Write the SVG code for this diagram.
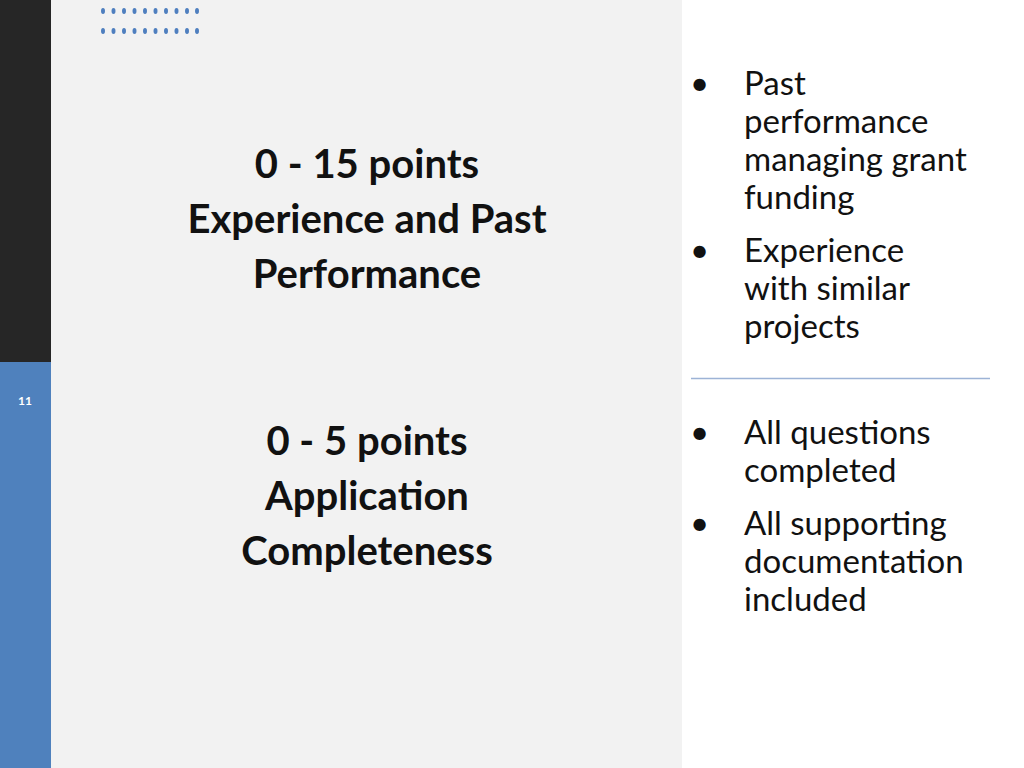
<svg xmlns="http://www.w3.org/2000/svg" width="1024" height="768" viewBox="0 0 1024 768">
<style>
.h{font-family:Lato,"Noto Sans",sans-serif;font-weight:bold;font-size:40px;fill:#111;text-anchor:middle}
.b{font-family:Lato,"Noto Sans",sans-serif;font-size:33px;fill:#111}
.d{fill:#4f7fbf}
</style>
<rect width="1024" height="768" fill="#fff"/>
<rect x="51" width="631" height="768" fill="#f2f2f2"/>
<rect width="51" height="362" fill="#262626"/>
<rect y="362" width="51" height="406" fill="#4f81bd"/>
<text x="25" y="405" font-family="Lato,sans-serif" font-size="12" font-weight="bold" fill="#fff" text-anchor="middle">11</text>
<g id="dots">
<g class="d">
<ellipse cx="103" cy="11" rx="2" ry="3"/><ellipse cx="113.5" cy="11" rx="2" ry="3"/><ellipse cx="124" cy="11" rx="2" ry="3"/><ellipse cx="134.5" cy="11" rx="2" ry="3"/><ellipse cx="145" cy="11" rx="2" ry="3"/><ellipse cx="155.5" cy="11" rx="2" ry="3"/><ellipse cx="166" cy="11" rx="2" ry="3"/><ellipse cx="176.5" cy="11" rx="2" ry="3"/><ellipse cx="187" cy="11" rx="2" ry="3"/><ellipse cx="197" cy="11" rx="2" ry="3"/>
<ellipse cx="103" cy="31" rx="2" ry="3"/><ellipse cx="113.5" cy="31" rx="2" ry="3"/><ellipse cx="124" cy="31" rx="2" ry="3"/><ellipse cx="134.5" cy="31" rx="2" ry="3"/><ellipse cx="145" cy="31" rx="2" ry="3"/><ellipse cx="155.5" cy="31" rx="2" ry="3"/><ellipse cx="166" cy="31" rx="2" ry="3"/><ellipse cx="176.5" cy="31" rx="2" ry="3"/><ellipse cx="187" cy="31" rx="2" ry="3"/><ellipse cx="197" cy="31" rx="2" ry="3"/>
</g>
</g>
<g id="heading1">
<text class="h" x="367" y="178">0 - 15 points</text>
<text class="h" x="367" y="233">Experience and Past</text>
<text class="h" x="367" y="288">Performance</text>
</g>
<g id="heading2">
<text class="h" x="367" y="455">0 - 5 points</text>
<text class="h" x="367" y="510">Application</text>
<text class="h" x="367" y="565">Completeness</text>
</g>
<g id="list1" class="b">
<text x="690" y="95">•</text>
<text x="744" y="95">Past</text>
<text x="744" y="133">performance</text>
<text x="744" y="171">managing grant</text>
<text x="744" y="209">funding</text>
<text x="690" y="262">•</text>
<text x="744" y="262">Experience</text>
<text x="744" y="300">with similar</text>
<text x="744" y="338">projects</text>
</g>
<line x1="691" y1="378.5" x2="990" y2="378.5" stroke="#9db3d6" stroke-width="1.5"/>
<g id="list2" class="b">
<text x="690" y="444">•</text>
<text x="744" y="444">All questions</text>
<text x="744" y="482">completed</text>
<text x="690" y="535">•</text>
<text x="744" y="535">All supporting</text>
<text x="744" y="573">documentation</text>
<text x="744" y="611">included</text>
</g>
</svg>
